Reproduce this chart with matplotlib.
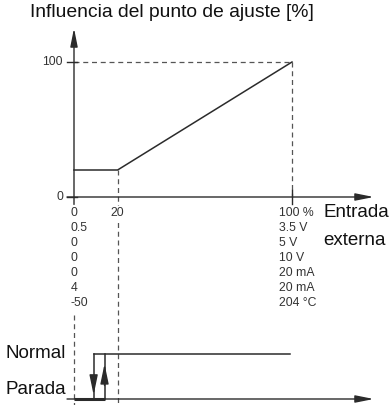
import matplotlib
matplotlib.use("Agg")
import matplotlib.pyplot as plt

plt.rcParams['font.family'] = ['Liberation Sans', 'DejaVu Sans']

# characteristic: setpoint influence vs external input (%)
x_pct = [0, 20, 100]
influence = [20, 20, 100]
y_ticks = [0, 100]

# scale labels under the x axis, one row per input type
scale_min = ['0', '0.5', '0', '0', '0', '4', '-50']
scale_max = ['100 %', '3.5 V', '5 V', '10 V', '20 mA', '20 mA', '204 °C']

# operating state (Normal / Parada) with hysteresis
switch_off = 9
switch_on = 14
normal_end = 99

LC = '#2b2b2b'
DC = '#555555'
TC = '#333333'
dash = (0, (4, 3))

fig = plt.figure(figsize=(3.9, 4.05), dpi=100)
ax = fig.add_axes([0, 0, 1, 1])
ax.set_xlim(-74 / 2.18, 316 / 2.18)
ax.set_ylim(-208 / 1.35, 197 / 1.35)
ax.axis('off')

# lower panel shares the x scale
ax2 = fig.add_axes([0, 0, 1, 1])
ax2.set_xlim(ax.get_xlim())
ax2.set_ylim(-6 / 45, 399 / 45)
ax2.axis('off')
ax2.patch.set_alpha(0)

# guide lines
ax.plot([0, 100], [100, 100], color=DC, lw=0.9, ls=dash)
ax.plot([100, 100], [100, 0], color=DC, lw=0.9, ls=dash)
ax.plot([20, 20], [20, -154], color=DC, lw=0.9, ls=dash)
ax2.plot([0, 0], [1.87, -0.2], color=DC, lw=0.9, ls=dash)

# axes with arrows
arr = dict(arrowstyle='-|>,head_length=1.1,head_width=0.22', color=LC, lw=1.0,
           mutation_scale=10, shrinkA=0, shrinkB=0)
ax.annotate('', xy=(0, 125), xytext=(0, -5.5), arrowprops=arr)
ax.annotate('', xy=(137.5, 0), xytext=(-3.2, 0), arrowprops=arr)

# ticks
for yt in y_ticks:
    ax.plot([-3, 1.3], [yt, yt], color=LC, lw=1.0)
    ax.text(-5, yt, str(yt), ha='right', va='center', fontsize=8.8, color=TC)
ax.plot([100, 100], [5, -5.5], color=LC, lw=1.0)

# characteristic curve
ax.plot(x_pct, influence, color=LC, lw=1.1)

# scale labels
for i, (lo, hi) in enumerate(zip(scale_min, scale_max)):
    yy = -(16 + 15 * i) / 1.35
    ax.text(-1.6, yy, lo, ha='left', va='center', fontsize=8.8, color=TC)
    ax.text(94.0, yy, hi, ha='left', va='center', fontsize=8.8, color=TC)
ax.text(20, -16 / 1.35, '20', ha='center', va='center', fontsize=8.8, color=TC,
        bbox=dict(fc='white', ec='none', pad=0.5))

ax.text(-20.2, 136.3, 'Influencia del punto de ajuste [%]', ha='left', va='center',
        fontsize=13.9, color='#111111')
ax.text(114.5, -16 / 1.35, 'Entrada', ha='left', va='center', fontsize=13.5, color='#111111')
ax.text(114.5, -44 / 1.35, 'externa', ha='left', va='center', fontsize=13.5, color='#111111')

# state diagram
ax2.annotate('', xy=(137.5, 0), xytext=(-3.2, 0), arrowprops=arr)
ax2.plot([0, switch_on], [0, 0], color=LC, lw=2.2, solid_capstyle='butt')
ax2.plot([switch_off, normal_end], [1, 1], color=LC, lw=1.1)
ax2.plot([switch_off, switch_off], [1, 0], color=LC, lw=1.1)
ax2.plot([switch_on, switch_on], [0, 1], color=LC, lw=1.1)
small = dict(arrowstyle='-|>,head_length=1.2,head_width=0.25', color=LC, lw=1.0,
             mutation_scale=10, shrinkA=0, shrinkB=0)
ax2.annotate('', xy=(switch_off, 0.09), xytext=(switch_off, 0.5), arrowprops=small)
ax2.annotate('', xy=(switch_on, 0.78), xytext=(switch_on, 0.3), arrowprops=small)

ax2.text(-31.6, 1, 'Normal', ha='left', va='center', fontsize=13.5, color='#111111')
ax2.text(-31.6, 0.2, 'Parada', ha='left', va='center', fontsize=13.5, color='#111111')

fig.savefig('out.png', dpi=100)
